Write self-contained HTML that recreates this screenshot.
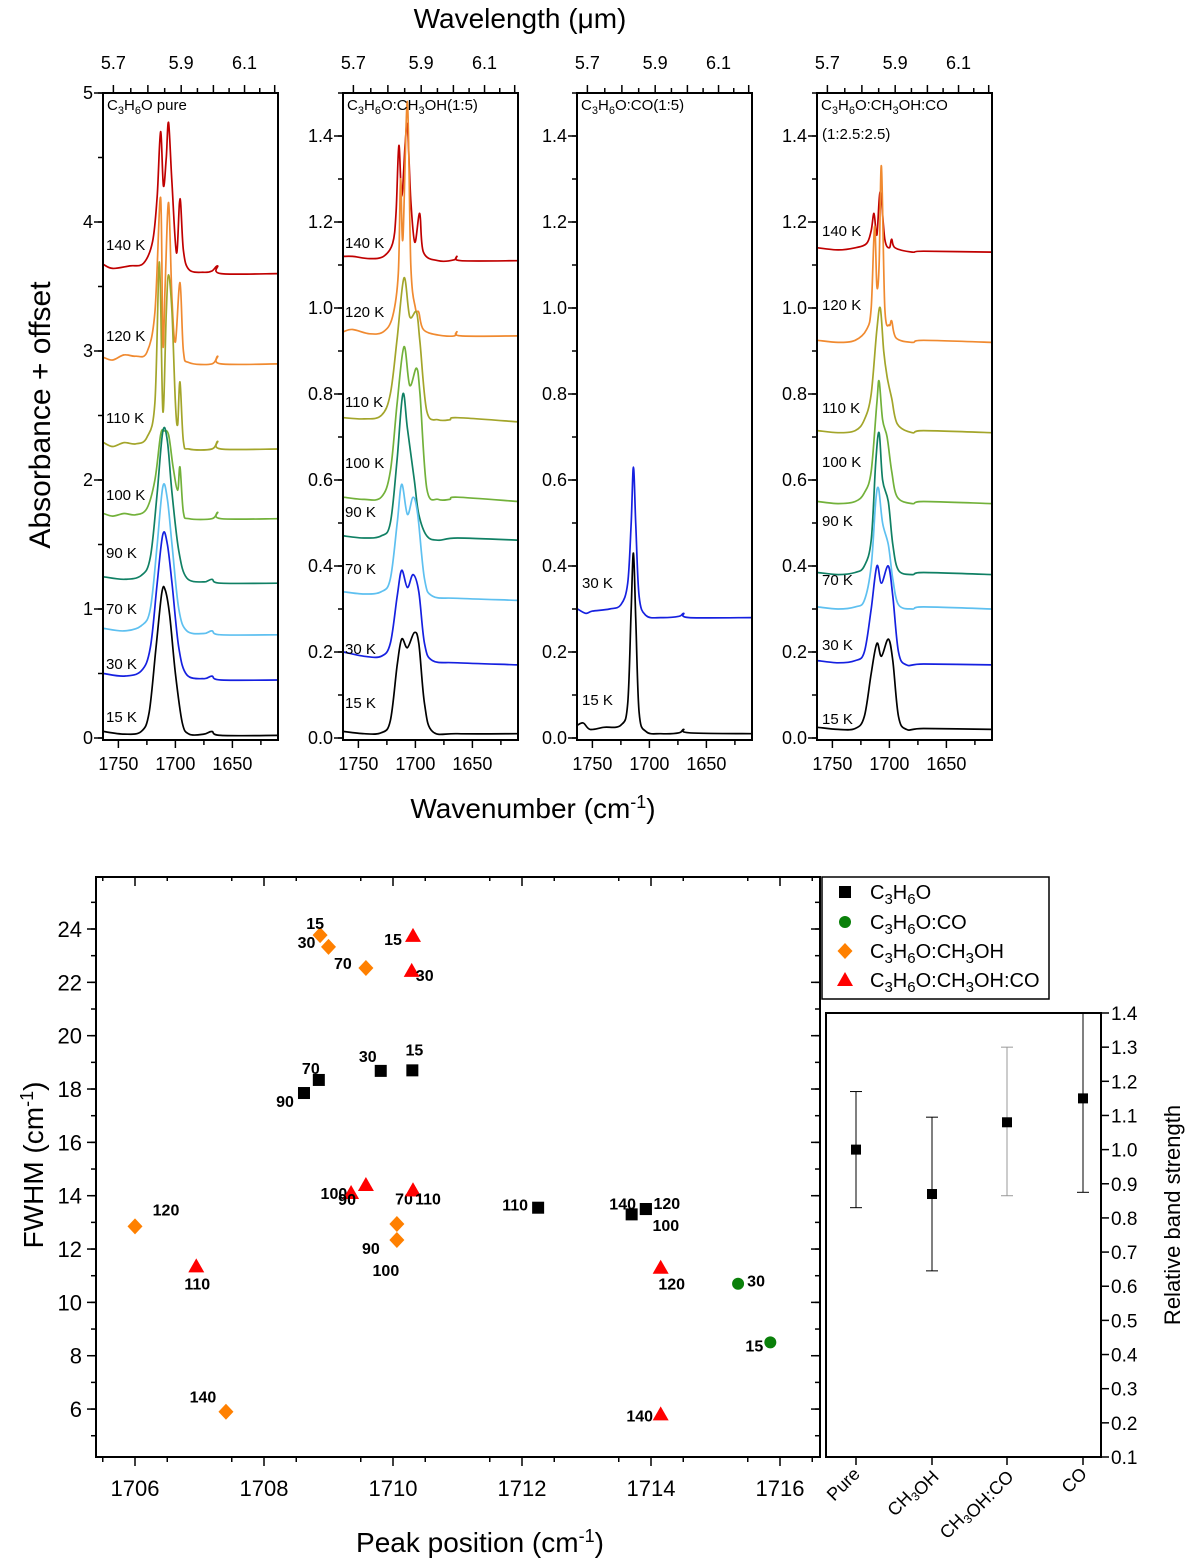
<!DOCTYPE html>
<html><head><meta charset="utf-8">
<style>
html,body{margin:0;padding:0;background:#fff;}
svg{display:block;font-family:"Liberation Sans",Arial,sans-serif;}
</style></head>
<body>
<svg id="fig" width="1200" height="1562" viewBox="0 0 1200 1562" xmlns="http://www.w3.org/2000/svg">
<g id="topgrp"></g>
<g id="botgrp"></g>
<g id="insgrp"></g>
</svg>
<script>
// ===== Spectra data: [wavenumber, absorbance+offset] control points =====
const tempLabels = ["140 K","120 K","110 K","100 K","90 K","70 K","30 K","15 K"];
const tempColors = ["#c00000","#f08a30","#a3a52a","#72b13a","#108064","#5ec0f0","#1520e0","#000000"];

const p1_140 = [[1763,3.67],[1755,3.64],[1740,3.66],[1728,3.68],[1720,3.85],[1716,4.2],[1713,4.70],[1710.5,4.28],[1708,4.5],[1706,4.77],[1703,4.3],[1699,3.76],[1696,4.18],[1693,3.78],[1688,3.63],[1675,3.61],[1668,3.62],[1663,3.66],[1660,3.6],[1610,3.6]];
const p1_120 = [[1763,2.95],[1755,2.93],[1745,2.97],[1735,2.96],[1725,2.99],[1718,3.3],[1713,4.19],[1711,3.05],[1709,3.5],[1706,4.15],[1703,3.4],[1700,3.07],[1696,3.53],[1693,3.0],[1688,2.91],[1668,2.9],[1663,2.96],[1660,2.9],[1610,2.9]];
const p1_110 = [[1763,2.29],[1755,2.26],[1745,2.29],[1735,2.28],[1725,2.33],[1718,2.6],[1714,3.69],[1711,2.53],[1708,3.3],[1706,3.59],[1703,3.3],[1700,2.6],[1698,2.43],[1696,2.76],[1693,2.3],[1688,2.24],[1668,2.24],[1663,2.3],[1660,2.24],[1610,2.24]];
const p1_100 = [[1763,1.74],[1755,1.72],[1745,1.74],[1735,1.73],[1725,1.78],[1718,2.0],[1713,2.35],[1710,2.38],[1706,2.35],[1702,2.1],[1698,1.92],[1696,2.1],[1693,1.75],[1688,1.7],[1668,1.7],[1663,1.75],[1660,1.7],[1610,1.7]];
const p1_90 = [[1763,1.25],[1745,1.23],[1730,1.26],[1722,1.4],[1716,1.9],[1711,2.38],[1707,2.3],[1703,1.9],[1697,1.45],[1690,1.24],[1675,1.21],[1668,1.23],[1660,1.2],[1610,1.2]];
const p1_70 = [[1763,0.85],[1745,0.83],[1730,0.87],[1722,1.0],[1716,1.5],[1711,1.95],[1707,1.85],[1703,1.5],[1697,1.0],[1690,0.83],[1675,0.81],[1668,0.83],[1660,0.8],[1610,0.8]];
const p1_30 = [[1763,0.5],[1745,0.48],[1730,0.52],[1722,0.7],[1716,1.2],[1711,1.58],[1707,1.5],[1703,1.2],[1697,0.7],[1690,0.49],[1675,0.46],[1668,0.48],[1660,0.45],[1610,0.45]];
const p1_15 = [[1763,0.05],[1745,0.03],[1730,0.05],[1723,0.2],[1717,0.7],[1712,1.12],[1709,1.15],[1705,0.95],[1700,0.5],[1694,0.12],[1688,0.03],[1675,0.03],[1668,0.05],[1660,0.02],[1610,0.02]];

const p2_140 = [[1763,1.12],[1755,1.12],[1740,1.115],[1728,1.12],[1720,1.15],[1717,1.22],[1714.5,1.378],[1712,1.26],[1709,1.38],[1707,1.423],[1704,1.25],[1700.5,1.153],[1696.2,1.22],[1693,1.13],[1680,1.11],[1666,1.112],[1663.6,1.12],[1660,1.11],[1610,1.11]];
const p2_120 = [[1763,0.945],[1755,0.95],[1740,0.94],[1728,0.945],[1720,0.98],[1715,1.08],[1713,1.3],[1711,1.16],[1707,1.48],[1704,1.1],[1700,1.0],[1697,0.99],[1693,0.95],[1680,0.937],[1666,0.935],[1663.6,0.945],[1660,0.935],[1610,0.935]];
const p2_110 = [[1763,0.745],[1745,0.742],[1730,0.75],[1722,0.8],[1716,0.93],[1710,1.07],[1705,0.98],[1699,0.99],[1696,0.92],[1690,0.76],[1680,0.74],[1670,0.74],[1663,0.745],[1610,0.735]];
const p2_100 = [[1763,0.56],[1745,0.555],[1730,0.56],[1722,0.62],[1716,0.78],[1710,0.91],[1705,0.82],[1699,0.86],[1696,0.8],[1690,0.58],[1680,0.555],[1670,0.555],[1663,0.56],[1610,0.55]];
const p2_90 = [[1763,0.47],[1745,0.465],[1730,0.47],[1722,0.5],[1716,0.65],[1711,0.80],[1707,0.72],[1701,0.6],[1697,0.52],[1690,0.47],[1680,0.46],[1663,0.465],[1610,0.46]];
const p2_70 = [[1763,0.34],[1745,0.335],[1730,0.34],[1722,0.37],[1716,0.5],[1712,0.59],[1707,0.52],[1702,0.56],[1698,0.52],[1692,0.37],[1685,0.33],[1663,0.325],[1610,0.32]];
const p2_30 = [[1763,0.2],[1745,0.19],[1730,0.19],[1722,0.22],[1716,0.33],[1712,0.39],[1707,0.35],[1702,0.38],[1697,0.34],[1692,0.22],[1685,0.18],[1663,0.175],[1610,0.17]];
const p2_15 = [[1763,0.015],[1745,0.01],[1730,0.012],[1722,0.04],[1716,0.17],[1712,0.23],[1707,0.21],[1701,0.245],[1697,0.22],[1692,0.08],[1685,0.015],[1663,0.01],[1610,0.01]];

const p3_30 = [[1763,0.3],[1756,0.29],[1750,0.295],[1735,0.3],[1725,0.31],[1719,0.36],[1716,0.5],[1714,0.63],[1712,0.5],[1709,0.33],[1703,0.285],[1690,0.28],[1674,0.283],[1670,0.29],[1665,0.28],[1610,0.28]];
const p3_15 = [[1763,0.03],[1758,0.035],[1752,0.02],[1740,0.025],[1725,0.03],[1719,0.08],[1716,0.3],[1714,0.43],[1712,0.28],[1709,0.06],[1703,0.015],[1690,0.01],[1674,0.012],[1670,0.02],[1665,0.012],[1610,0.01]];

const p4_140 = [[1763,1.14],[1745,1.135],[1730,1.14],[1720,1.15],[1716,1.18],[1713.5,1.22],[1711,1.17],[1708,1.27],[1704,1.16],[1700,1.14],[1698,1.16],[1695,1.14],[1680,1.13],[1670,1.132],[1610,1.13]];
const p4_120 = [[1763,0.925],[1745,0.92],[1730,0.925],[1720,0.95],[1716,1.0],[1713,1.19],[1711,1.05],[1709,1.1],[1707,1.33],[1704,1.0],[1700,0.96],[1698,0.97],[1694,0.93],[1680,0.92],[1670,0.925],[1610,0.92]];
const p4_110 = [[1763,0.715],[1745,0.71],[1730,0.715],[1722,0.74],[1716,0.8],[1711,0.95],[1708,1.0],[1705,0.9],[1702,0.84],[1698,0.79],[1693,0.73],[1680,0.71],[1670,0.715],[1610,0.71]];
const p4_100 = [[1763,0.55],[1745,0.545],[1730,0.55],[1722,0.57],[1716,0.62],[1711,0.78],[1709,0.83],[1706,0.74],[1702,0.7],[1698,0.62],[1693,0.56],[1680,0.545],[1670,0.55],[1610,0.545]];
const p4_90 = [[1763,0.385],[1745,0.38],[1730,0.385],[1722,0.4],[1716,0.46],[1712,0.64],[1709,0.71],[1706,0.6],[1701,0.55],[1697,0.45],[1692,0.39],[1680,0.38],[1670,0.385],[1610,0.38]];
const p4_70 = [[1763,0.305],[1745,0.3],[1730,0.305],[1722,0.32],[1716,0.4],[1712,0.55],[1709.5,0.58],[1706,0.5],[1701,0.45],[1697,0.37],[1692,0.31],[1680,0.3],[1670,0.305],[1610,0.3]];
const p4_30 = [[1763,0.18],[1745,0.175],[1730,0.18],[1722,0.2],[1716,0.3],[1711,0.40],[1707,0.36],[1701,0.40],[1697,0.33],[1692,0.2],[1685,0.17],[1670,0.172],[1610,0.17]];
const p4_15 = [[1763,0.025],[1745,0.02],[1730,0.022],[1722,0.05],[1716,0.15],[1711,0.22],[1707,0.19],[1701,0.23],[1697,0.18],[1692,0.05],[1685,0.02],[1670,0.022],[1610,0.02]];

const panelTitles = ["C<tspan dy='4' font-size='11'>3</tspan><tspan dy='-4'>H</tspan><tspan dy='4' font-size='11'>6</tspan><tspan dy='-4'>O pure</tspan>",
 "C<tspan dy='4' font-size='11'>3</tspan><tspan dy='-4'>H</tspan><tspan dy='4' font-size='11'>6</tspan><tspan dy='-4'>O:CH</tspan><tspan dy='4' font-size='11'>3</tspan><tspan dy='-4'>OH(1:5)</tspan>",
 "C<tspan dy='4' font-size='11'>3</tspan><tspan dy='-4'>H</tspan><tspan dy='4' font-size='11'>6</tspan><tspan dy='-4'>O:CO(1:5)</tspan>",
 "C<tspan dy='4' font-size='11'>3</tspan><tspan dy='-4'>H</tspan><tspan dy='4' font-size='11'>6</tspan><tspan dy='-4'>O:CH</tspan><tspan dy='4' font-size='11'>3</tspan><tspan dy='-4'>OH:CO</tspan>"];
const p1Ticks = [0,1,2,3,4,5];
const p2Ticks = [0,0.2,0.4,0.6,0.8,1.0,1.2,1.4];
const wnTicks = [1750,1700,1650];
const wlTicks = [5.7,5.9,6.1];

// ===== Scatter data =====
const blkT = ["15","30","70","90","110","140","120","100"];
const blkX = [1710.3,1709.81,1708.85,1708.62,1712.25,1713.7,1713.92,1713.92];
const blkY = [18.7,18.68,18.34,17.85,13.55,13.3,13.5,13.5];
const orgT = ["15","30","70","120","90","100","140"];
const orgX = [1708.87,1709.0,1709.58,1706.0,1710.06,1710.06,1707.41];
const orgY = [23.77,23.33,22.54,12.85,12.94,12.34,5.9];
const redT = ["15","30","100","90","70","110","110","120","140"];
const redX = [1710.31,1710.29,1709.58,1709.35,1710.31,1710.31,1706.95,1714.15,1714.15];
const redY = [23.74,22.43,14.4,14.1,14.2,14.2,11.35,11.3,5.8];
const grnT = ["30","15"];
const grnX = [1715.35,1715.85];
const grnY = [10.7,8.5];
const xTicksS = [1706,1708,1710,1712,1714,1716];
const yTicksS = [6,8,10,12,14,16,18,20,22,24];

// ===== Inset data =====
const insCats = ["Pure","CH3OH","CH3OH:CO","CO"];
const insVal = [1.0,0.87,1.08,1.15];
const insLo = [0.83,0.645,0.865,0.875];
const insHi = [1.17,1.095,1.30,1.45];
const insTicks = [0.1,0.2,0.3,0.4,0.5,0.6,0.7,0.8,0.9,1.0,1.1,1.2,1.3,1.4];

// label offsets (pixels, layout only)
const blkOff=[[2,-21],[-13,-15],[-8,-12],[-19,8],[-23,-3],[-9,-11],[21,-6],[20,16]];
const orgOff=[[-5,-12],[-22,-5],[-23,-5],[31,-17],[-26,24],[-11,30],[-23,-15]];
const redOff=[[-20,3],[13,4],[-32,8],[-4,6],[-9,8],[15,8],[1,17],[11,16],[-21,1]];
const grnOff=[[18,-3],[-16,3]];

const NS="http://www.w3.org/2000/svg";
function el(parent,tag,attrs,text){const e=document.createElementNS(NS,tag);for(const k in attrs)e.setAttribute(k,attrs[k]);if(text!==undefined)e.textContent=text;parent.appendChild(e);return e;}
function fmt(v,d){return v.toFixed(d);}
function smoothPath(pts){
  let d="M"+pts[0][0].toFixed(1)+","+pts[0][1].toFixed(1);
  for(let i=0;i<pts.length-1;i++){
    const p0=pts[Math.max(0,i-1)],p1=pts[i],p2=pts[i+1],p3=pts[Math.min(pts.length-1,i+2)];
    const k=6;
    const c1=[p1[0]+(p2[0]-p0[0])/k,p1[1]+(p2[1]-p0[1])/k];
    const c2=[p2[0]-(p3[0]-p1[0])/k,p2[1]-(p3[1]-p1[1])/k];
    d+="C"+c1[0].toFixed(1)+","+c1[1].toFixed(1)+" "+c2[0].toFixed(1)+","+c2[1].toFixed(1)+" "+p2[0].toFixed(1)+","+p2[1].toFixed(1);
  }
  return d;
}

// ===== Top panels =====
const topG=document.getElementById('topgrp');
const panels=[
 {x0:103,ymax:5,ticks:p1Ticks,dec:0,minor:0.5,series:[p1_140,p1_120,p1_110,p1_100,p1_90,p1_70,p1_30,p1_15],ci:[0,1,2,3,4,5,6,7],
  labY:[245,336,418,495,553,609,664,717],labX:106},
 {x0:343,ymax:1.5,ticks:p2Ticks,dec:1,minor:0.1,series:[p2_140,p2_120,p2_110,p2_100,p2_90,p2_70,p2_30,p2_15],ci:[0,1,2,3,4,5,6,7],
  labY:[243,312,402,463,512,569,649,703],labX:345},
 {x0:577,ymax:1.5,ticks:p2Ticks,dec:1,minor:0.1,series:[p3_30,p3_15],ci:[6,7],
  labY:[583,700],labX:582},
 {x0:817,ymax:1.5,ticks:p2Ticks,dec:1,minor:0.1,series:[p4_140,p4_120,p4_110,p4_100,p4_90,p4_70,p4_30,p4_15],ci:[0,1,2,3,4,5,6,7],
  labY:[231,305,408,462,521,580,645,719],labX:822}
];
const PW=175, PT=93, PB=740;
panels.forEach(function(p,pi){
  const g=el(topG,'g',{});
  
  
  const sx=w=>p.x0+(1763.5-w)*(PW/153.5);
  const syy=v=>{const y0=PB-2; return y0-(v)*(y0-PT)/p.ymax;};
  const cid='clip'+pi;
  const cp=el(g,'clipPath',{id:cid});el(cp,'rect',{x:p.x0,y:PT,width:PW,height:PB-PT});
  p.series.forEach(function(s,si){
    const pts=s.map(q=>[sx(q[0]),syy(q[1])]);
    const path=el(g,'path',{d:smoothPath(pts),fill:'none',stroke:tempColors[p.ci[si]],'stroke-width':1.7,'clip-path':'url(#'+cid+')'});
    
    
    const lt=el(g,'text',{x:p.labX,y:p.labY[si]+5,'font-size':15,fill:'#000'},tempLabels[p.ci[si]]);
    
    
  });
  const fr=el(g,'rect',{x:p.x0,y:PT,width:PW,height:PB-PT,fill:'none',stroke:'#000','stroke-width':2});
  
  
  for(let v=0;v<=p.ymax+1e-9;v+=p.minor){
    const y=syy(v);el(g,'line',{x1:p.x0-5,x2:p.x0,y1:y,y2:y,stroke:'#000','stroke-width':1.5});
  }
  p.ticks.forEach(function(v){
    const y=syy(v);el(g,'line',{x1:p.x0-9,x2:p.x0,y1:y,y2:y,stroke:'#000','stroke-width':1.5});
    const yt=el(g,'text',{x:p.x0-10,y:y+6,'font-size':18,'text-anchor':'end'},fmt(v,p.dec));
    
    
  });
  for(let w=1750;w>=1625;w-=25){const x=sx(w);el(g,'line',{x1:x,x2:x,y1:PB,y2:PB+(w%50===0?8:5),stroke:'#000','stroke-width':1.5});}
  wnTicks.forEach(function(w){const xt=el(g,'text',{x:sx(w),y:PB+30,'font-size':18,'text-anchor':'middle'},String(w));
    
    });
  for(let i=0;i<=12;i++){const l=5.65+i*0.05;const x=sx(1e4/l);if(x<p.x0||x>p.x0+PW)continue;
    const maj=(i%2===1);
    el(g,'line',{x1:x,x2:x,y1:PT,y2:PT-(maj?8:5),stroke:'#000','stroke-width':1.5});}
  wlTicks.forEach(function(l){const wt=el(g,'text',{x:sx(1e4/l),y:PT-24,'font-size':18,'text-anchor':'middle'},l.toFixed(1));
    
    });
  const tt=el(g,'text',{x:p.x0+4,y:PT+17,'font-size':15});tt.innerHTML=panelTitles[pi];
  
  
  if(pi===3){const t2=el(g,'text',{x:p.x0+5,y:PT+46,'font-size':15},'(1:2.5:2.5)');
    
    }
});
let tx0;
tx0=el(topG,'text',{x:520,y:28,'font-size':28,'text-anchor':'middle'},'Wavelength (μm)');


tx0=el(topG,'text',{x:533,y:818,'font-size':28,'text-anchor':'middle'});tx0.innerHTML='Wavenumber (cm<tspan dy="-10" font-size="18">-1</tspan><tspan dy="10">)</tspan>';


tx0=el(topG,'text',{x:0,y:0,'font-size':30,'text-anchor':'middle',transform:'translate(50,415) rotate(-90)'},'Absorbance + offset');



// ===== Scatter =====
const botG=document.getElementById('botgrp');
const SL=96,SR=820,ST=877,SB=1457;
const X=v=>135+(v-1706)*64.5;
const Y=v=>929-(v-24)*26.67;
el(botG,'rect',{x:SL,y:ST,width:SR-SL,height:SB-ST,fill:'none',stroke:'#000','stroke-width':2});
for(let i=0;i<12;i++){const x=X(1705.5+i);el(botG,'line',{x1:x,x2:x,y1:SB,y2:SB+5,stroke:'#000','stroke-width':1.5});el(botG,'line',{x1:x,x2:x,y1:ST,y2:ST+4,stroke:'#000','stroke-width':1.5});}
xTicksS.forEach(function(v){const x=X(v);el(botG,'line',{x1:x,x2:x,y1:SB,y2:SB+9,stroke:'#000','stroke-width':1.5});el(botG,'line',{x1:x,x2:x,y1:ST,y2:ST+9,stroke:'#000','stroke-width':1.5});
  const xl=el(botG,'text',{x:x,y:SB+39,'font-size':22,'text-anchor':'middle'},String(v));
  
  });
for(let v=5;v<=25;v+=1){const y=Y(v);el(botG,'line',{x1:SL-5,x2:SL,y1:y,y2:y,stroke:'#000','stroke-width':1.5});el(botG,'line',{x1:SR-5,x2:SR,y1:y,y2:y,stroke:'#000','stroke-width':1.5});}
yTicksS.forEach(function(v){const y=Y(v);el(botG,'line',{x1:SL-9,x2:SL,y1:y,y2:y,stroke:'#000','stroke-width':1.5});el(botG,'line',{x1:SR-9,x2:SR,y1:y,y2:y,stroke:'#000','stroke-width':1.5});
  const yl=el(botG,'text',{x:SL-14,y:y+8,'font-size':22,'text-anchor':'end'},String(v));
  
  });
function marker(g,kind,x,y,color){
  if(kind==='sq')return el(g,'rect',{x:x-6,y:y-6,width:12,height:12,fill:color});
  if(kind==='ci')return el(g,'circle',{cx:x,cy:y,r:6,fill:color});
  if(kind==='di')return el(g,'path',{d:'M'+x+','+(y-8)+'L'+(x+7.5)+','+y+'L'+x+','+(y+8)+'L'+(x-7.5)+','+y+'Z',fill:color});
  return el(g,'path',{d:'M'+x+','+(y-8)+'L'+(x+8)+','+(y+6)+'L'+(x-8)+','+(y+6)+'Z',fill:color});
}
function drawSeries(name,T,XS,YS,off,kind,color){
  const g=el(botG,'g',{});
  
  
  XS.forEach(function(xv,i){
    const px=X(xv),py=Y(YS[i]);
    const m=marker(g,kind,px,py,color);
    
    
    const lb=el(g,'text',{x:px+off[i][0],y:py+off[i][1]+6,'font-size':16,'font-weight':'bold','text-anchor':'middle'},T[i]);
    
    
  });
}
drawSeries('series-c3h6o',blkT,blkX,blkY,blkOff,'sq','#000');
drawSeries('series-c3h6o-ch3oh',orgT,orgX,orgY,orgOff,'di','#ff8000');
drawSeries('series-c3h6o-ch3oh-co',redT,redX,redY,redOff,'tr','#ff0000');
drawSeries('series-c3h6o-co',grnT,grnX,grnY,grnOff,'ci','#0a800a');
tx0=el(botG,'text',{x:480,y:1552,'font-size':28,'text-anchor':'middle'});tx0.innerHTML='Peak position (cm<tspan dy="-10" font-size="18">-1</tspan><tspan dy="10">)</tspan>';


tx0=el(botG,'text',{x:0,y:0,'font-size':28,'text-anchor':'middle',transform:'translate(43,1165) rotate(-90)'});tx0.innerHTML='FWHM (cm<tspan dy="-10" font-size="18">-1</tspan><tspan dy="10">)</tspan>';


const lg=el(botG,'g',{});


el(lg,'rect',{x:822,y:877,width:227,height:122,fill:'#fff',stroke:'#000','stroke-width':1.5});
const legTxt=["C<tspan dy='5' font-size='15'>3</tspan><tspan dy='-5'>H</tspan><tspan dy='5' font-size='15'>6</tspan><tspan dy='-5'>O</tspan>",
"C<tspan dy='5' font-size='15'>3</tspan><tspan dy='-5'>H</tspan><tspan dy='5' font-size='15'>6</tspan><tspan dy='-5'>O:CO</tspan>",
"C<tspan dy='5' font-size='15'>3</tspan><tspan dy='-5'>H</tspan><tspan dy='5' font-size='15'>6</tspan><tspan dy='-5'>O:CH</tspan><tspan dy='5' font-size='15'>3</tspan><tspan dy='-5'>OH</tspan>",
"C<tspan dy='5' font-size='15'>3</tspan><tspan dy='-5'>H</tspan><tspan dy='5' font-size='15'>6</tspan><tspan dy='-5'>O:CH</tspan><tspan dy='5' font-size='15'>3</tspan><tspan dy='-5'>OH:CO</tspan>"];
const legK=['sq','ci','di','tr'],legC=['#000','#0a800a','#ff8000','#ff0000'],legY=[892,922,951,980];
legK.forEach(function(k,i){const m=marker(lg,k,845,legY[i],legC[i]);
  
  
  const lt=el(lg,'text',{x:870,y:legY[i]+7,'font-size':20});lt.innerHTML=legTxt[i];
  
  });

// ===== Inset =====
const insG=document.getElementById('insgrp');
const IL=826,IR=1101,IT=1013,IB=1457;
const IY=v=>IB-(v-0.1)*(IB-IT)/1.3;
const catX=[856,932,1007,1083];
const icp=el(insG,'clipPath',{id:'iclip'});el(icp,'rect',{x:IL,y:IT,width:IR-IL,height:IB-IT});
el(insG,'rect',{x:IL,y:IT,width:IR-IL,height:IB-IT,fill:'none',stroke:'#000','stroke-width':2});
insTicks.forEach(function(v){const y=IY(v);el(insG,'line',{x1:IR,x2:IR+8,y1:y,y2:y,stroke:'#000','stroke-width':1.5});
  const rl=el(insG,'text',{x:IR+10,y:y+7,'font-size':19},v.toFixed(1));
  
  });
insCats.forEach(function(c,i){
  const x=catX[i];
  el(insG,'line',{x1:x,x2:x,y1:IB,y2:IB+8,stroke:'#000','stroke-width':1.5});
  const col=i===2?'#999':'#000';
  const eg=el(insG,'g',{'clip-path':'url(#iclip)'});
  
  
  el(eg,'line',{x1:x,x2:x,y1:IY(insHi[i]),y2:IY(insLo[i]),stroke:col,'stroke-width':1});
  el(eg,'line',{x1:x-6,x2:x+6,y1:IY(insHi[i]),y2:IY(insHi[i]),stroke:col,'stroke-width':1});
  el(eg,'line',{x1:x-6,x2:x+6,y1:IY(insLo[i]),y2:IY(insLo[i]),stroke:col,'stroke-width':1});
  const m=el(insG,'rect',{x:x-5,y:IY(insVal[i])-5,width:10,height:10,fill:'#000'});
  
  
  const lab=c.replace(/3/g,"<tspan dy='4' font-size='12'>3</tspan><tspan dy='-4'></tspan>");
  const cl=el(insG,'text',{x:0,y:0,'font-size':18,'text-anchor':'end',transform:'translate('+(x+5)+','+(IB+18)+') rotate(-45)'});cl.innerHTML=lab;
  
  
});
tx0=el(insG,'text',{x:0,y:0,'font-size':22,'text-anchor':'middle',transform:'translate(1180,1215) rotate(-90)'},'Relative band strength');


</script>
</body></html>
